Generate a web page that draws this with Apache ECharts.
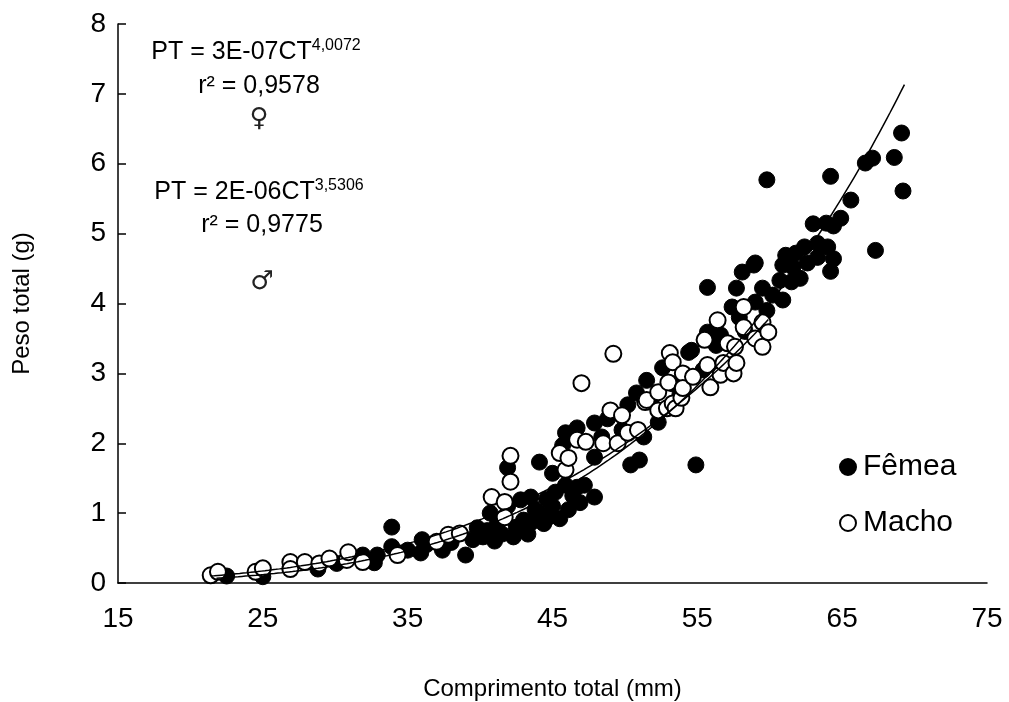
<!DOCTYPE html>
<html>
<head>
<meta charset="utf-8">
<script src="https://cdn.jsdelivr.net/npm/echarts@6/dist/echarts.min.js"></script>
<style>html,body{margin:0;padding:0;background:#fff}#c{width:1009px;height:702px}</style>
</head>
<body>
<div id="c"></div>
<script>
// Fêmea (female) – comprimento total (mm), peso total (g)
const femaleX = [22.5,25.0,28.8,30.1,31.9,32.7,32.9,33.9,33.9,35.0,35.9,36.0,36.3,37.4,38.0,39.0,39.5,39.8,40.2,40.5,40.7,41.0,41.2,41.5,41.9,41.9,42.3,42.5,42.8,43.0,43.3,43.5,43.5,43.8,44.1,44.1,44.4,44.6,44.8,45.0,45.0,45.2,45.5,45.7,45.9,45.9,46.1,46.4,46.7,46.7,46.9,47.2,47.9,47.9,47.9,48.4,48.8,49.8,50.2,50.4,51.0,50.8,51.3,51.5,51.8,52.3,52.6,53.3,53.8,54.4,54.6,54.9,55.4,55.7,55.7,56.3,56.6,57.4,57.7,57.9,58.1,58.3,58.9,59.0,59.0,59.5,59.8,59.8,60.2,60.7,60.9,60.9,61.1,61.5,61.6,61.8,62.1,62.4,62.6,63.0,63.3,63.3,63.9,64.0,64.2,64.2,64.4,64.4,64.9,65.6,66.6,67.1,67.3,68.6,69.1,69.2];
const femaleY = [0.10,0.09,0.20,0.28,0.40,0.29,0.40,0.80,0.52,0.47,0.43,0.62,0.55,0.47,0.58,0.40,0.62,0.79,0.66,0.75,1.00,0.60,0.85,0.70,1.65,1.10,0.66,0.80,1.19,0.90,0.70,1.23,0.86,1.05,1.73,1.00,0.85,1.20,0.95,1.57,1.10,1.30,0.92,1.97,2.15,1.40,1.05,1.25,2.22,1.37,1.15,1.40,2.29,1.80,1.23,2.09,2.35,2.19,2.55,1.69,1.76,2.72,2.09,2.90,2.60,2.30,3.08,2.85,2.70,3.30,3.33,1.69,3.05,4.23,3.59,3.40,3.55,3.95,4.22,3.80,4.45,3.60,4.55,4.58,4.02,4.22,5.77,3.90,4.12,4.33,4.55,4.05,4.69,4.31,4.52,4.72,4.36,4.81,4.58,5.14,4.86,4.66,5.15,4.81,5.82,4.46,5.11,4.64,5.22,5.48,6.01,6.08,4.76,6.09,6.44,5.61];
// Macho (male)
const maleX = [21.4,21.9,24.5,25.0,26.9,26.9,27.9,28.9,29.6,30.8,30.9,31.9,34.3,37.0,37.8,38.6,40.8,41.7,41.7,42.1,42.1,45.5,45.9,46.1,46.7,47.0,47.3,48.5,49.0,49.2,49.5,49.8,50.2,50.9,51.4,51.5,52.3,52.3,52.9,53.0,53.1,53.3,53.3,53.5,53.9,54.0,54.0,54.7,55.5,55.7,55.9,56.4,56.6,56.8,57.1,57.5,57.6,57.7,58.2,58.2,59.0,59.5,59.5,59.9];
const maleY = [0.11,0.16,0.16,0.21,0.30,0.20,0.30,0.28,0.35,0.33,0.44,0.30,0.40,0.59,0.69,0.71,1.23,1.16,0.94,1.45,1.82,1.86,1.62,1.79,2.05,2.86,2.02,2.00,2.47,3.28,2.00,2.40,2.15,2.19,2.59,2.62,2.73,2.47,2.50,2.87,3.29,3.16,2.57,2.50,2.65,3.00,2.79,2.95,3.48,3.12,2.80,3.76,2.98,3.15,3.43,3.00,3.38,3.15,3.95,3.66,3.50,3.73,3.38,3.59];
// Power trend lines as printed on the chart: PT = a * CT^b
const femaleA = 3e-7, femaleB = 4.0072, femaleRange = [21.8, 69.3];
const maleA = 2e-6, maleB = 3.5306, maleRange = [21.4, 60.0];
const xTicks = [15,25,35,45,55,65,75];
const yTicks = [0,1,2,3,4,5,6,7,8];

function pts(xs, ys){ return xs.map((x,i)=>[x, ys[i]]); }
function trend(a, b, r){
  const out = [];
  for (let x = r[0]; x <= r[1] + 1e-9; x += 0.25) out.push([x, a*Math.pow(x,b)]);
  return out;
}

const F = 'Arial, "Liberation Sans", sans-serif';
const chart = echarts.init(document.getElementById('c'), null, {renderer:'canvas'});
chart.setOption({
  animation:false,
  backgroundColor:'#fff',
  grid:{left:118, right:22, top:24, bottom:119, containLabel:false, outerBoundsMode:'none'},
  xAxis:{
    type:'value', min:xTicks[0], max:xTicks[xTicks.length-1], interval:10,
    name:'Comprimento total (mm)', nameLocation:'middle', nameGap:94,
    nameTextStyle:{fontFamily:F, fontSize:24, color:'#000'},
    axisLine:{lineStyle:{color:'#000', width:1.5}},
    axisTick:{show:false},
    splitLine:{show:false},
    axisLabel:{fontFamily:F, fontSize:28, color:'#000', margin:22}
  },
  yAxis:{
    type:'value', min:yTicks[0], max:yTicks[yTicks.length-1], interval:1,
    name:'Peso total (g)', nameLocation:'middle', nameGap:84,
    nameTextStyle:{fontFamily:F, fontSize:24, color:'#000'},
    axisLine:{show:true, lineStyle:{color:'#000', width:1.5}},
    axisTick:{show:true, inside:true, length:8, lineStyle:{color:'#000', width:1.5}},
    splitLine:{show:false},
    axisLabel:{fontFamily:F, fontSize:28, color:'#000', margin:12}
  },
  legend:{
    orient:'vertical', left:834, top:447, itemGap:26, itemWidth:16, itemHeight:16,
    textStyle:{fontFamily:F, fontSize:30, color:'#000', padding:[0,0,0,2]},
    data:[{name:'Fêmea', icon:'circle'},{name:'Macho', icon:'circle'}]
  },
  series:[
    {name:'Fêmea', type:'scatter', data:pts(femaleX,femaleY), symbolSize:16, z:2,
     itemStyle:{color:'#000', borderColor:'#000', borderWidth:1, opacity:1}},
    {name:'Macho', type:'scatter', data:pts(maleX,maleY), symbolSize:16, z:3,
     itemStyle:{color:'#fff', borderColor:'#000', borderWidth:2, opacity:1}},
    {name:'trendF', type:'line', data:trend(femaleA,femaleB,femaleRange), showSymbol:false, smooth:false, z:5,
     lineStyle:{color:'#000', width:1.5}, silent:true},
    {name:'trendM', type:'line', data:trend(maleA,maleB,maleRange), showSymbol:false, smooth:false, z:5,
     lineStyle:{color:'#000', width:1.5}, silent:true}
  ],
  graphic:[
    {type:'text', x:256, y:52, style:{text:'{a|PT = 3E-07CT}{s|4,0072}', align:'center', verticalAlign:'middle',
      rich:{a:{fontFamily:F, fontSize:25, color:'#000', lineHeight:28}, s:{fontFamily:F, fontSize:16, color:'#000', verticalAlign:'top', lineHeight:28}}}},
    {type:'text', x:259, y:86, style:{text:'r² = 0,9578', fontFamily:F, fontSize:25, fill:'#000', align:'center', verticalAlign:'middle'}},
    {type:'text', x:259, y:119, style:{text:'♀', fontFamily:'DejaVu Sans', fontSize:26, fill:'#222', align:'center', verticalAlign:'middle'}},
    {type:'text', x:259, y:192, style:{text:'{a|PT = 2E-06CT}{s|3,5306}', align:'center', verticalAlign:'middle',
      rich:{a:{fontFamily:F, fontSize:25, color:'#000', lineHeight:28}, s:{fontFamily:F, fontSize:16, color:'#000', verticalAlign:'top', lineHeight:28}}}},
    {type:'text', x:262, y:225, style:{text:'r² = 0,9775', fontFamily:F, fontSize:25, fill:'#000', align:'center', verticalAlign:'middle'}},
    {type:'text', x:262, y:282, style:{text:'♂', fontFamily:'DejaVu Sans', fontSize:26, fill:'#222', align:'center', verticalAlign:'middle'}}
  ]
});
</script>
</body>
</html>
